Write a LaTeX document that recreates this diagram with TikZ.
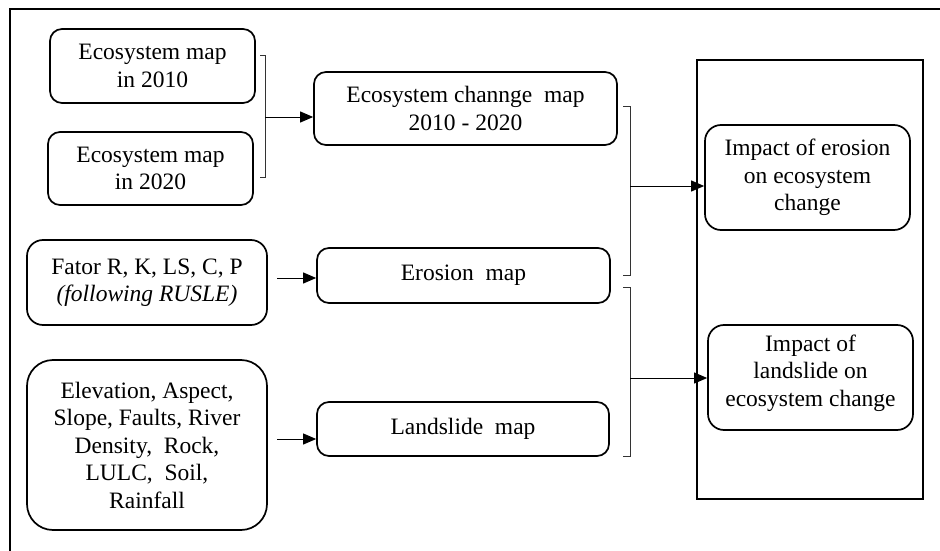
\documentclass[tikz,border=0pt]{standalone}
\usepackage{fontspec}
\setmainfont{Liberation Serif}
\usepackage{tikz}
\usetikzlibrary{arrows.meta}

\begin{document}
\begin{tikzpicture}[x=1pt,y=-1pt,>={Triangle[length=13pt,width=11pt]},
  box/.style={draw,line width=1.7pt,rounded corners=12pt,align=center,inner sep=0pt,font=\fontsize{23.5}{27.5}\selectfont},
  brk/.style={line width=0.9pt,black!80}]
\useasboundingbox (0,0) rectangle (940,551);
% outer frame (cut off at the page edge)
\draw[line width=1.8pt] (10,560) -- (10,9) -- (950,9);
% inputs
\node[box,minimum width=205pt,minimum height=74pt] (eco10) at (152.5,66) {Ecosystem map\\in 2010};
\node[box,minimum width=205pt,minimum height=73pt] (eco20) at (150.5,168.5) {Ecosystem map\\in 2020};
\node[box,minimum width=240pt,minimum height=85pt,rounded corners=16pt] (factors) at (147,282.5) {Fator R, K, LS, C, P\\\textit{(following RUSLE)}};
\node[box,minimum width=240pt,minimum height=170pt,rounded corners=26pt] (params) at (147,445) {Elevation, Aspect,\\Slope, Faults, River\\Density,~~Rock,\\LULC,~~Soil,\\Rainfall};
% maps
\node[box,minimum width=303pt,minimum height=73pt] (change) at (465.5,108.5) {Ecosystem channge~~map\\2010 - 2020};
\node[box,minimum width=293pt,minimum height=55pt] (erosion) at (463.5,275.5) {Erosion~~map};
\node[box,minimum width=292pt,minimum height=54pt] (landslide) at (463,429) {Landslide~~map};
% results
\node[draw,line width=2.2pt,minimum width=226pt,minimum height=439pt,inner sep=0pt] (result) at (810,279.5) {};
\node[box,minimum width=205pt,minimum height=105pt,rounded corners=16pt] (impEro) at (807.5,177.5) {Impact of erosion\\on ecosystem\\change};
\node[box,minimum width=205pt,minimum height=105pt,rounded corners=16pt,text depth=14pt] (impLand) at (810.5,377.5) {Impact of\\landslide on\\ecosystem change};
% brackets
\draw[brk] (260,55) -- (265,55) -- (265,177) -- (260,177);
\draw[brk] (623,106) -- (630,106) -- (630,275) -- (623,275);
\draw[brk] (623,287) -- (630,287) -- (630,456) -- (623,456);
\coordinate (b1) at (265,117);
\coordinate (b2) at (630,186);
\coordinate (b3) at (630,378);
\coordinate (f1) at (277,278);
\coordinate (p1) at (277,439);
% arrows
\draw[->,line width=0.9pt] (b1) -- (b1 -| change.west);
\draw[->,line width=0.9pt] (f1) -- (f1 -| erosion.west);
\draw[->,line width=0.9pt] (p1) -- (p1 -| landslide.west);
\draw[->,line width=0.9pt] (b2) -- (b2 -| impEro.west);
\draw[->,line width=0.9pt] (b3) -- (b3 -| impLand.west);
\end{tikzpicture}
\end{document}
